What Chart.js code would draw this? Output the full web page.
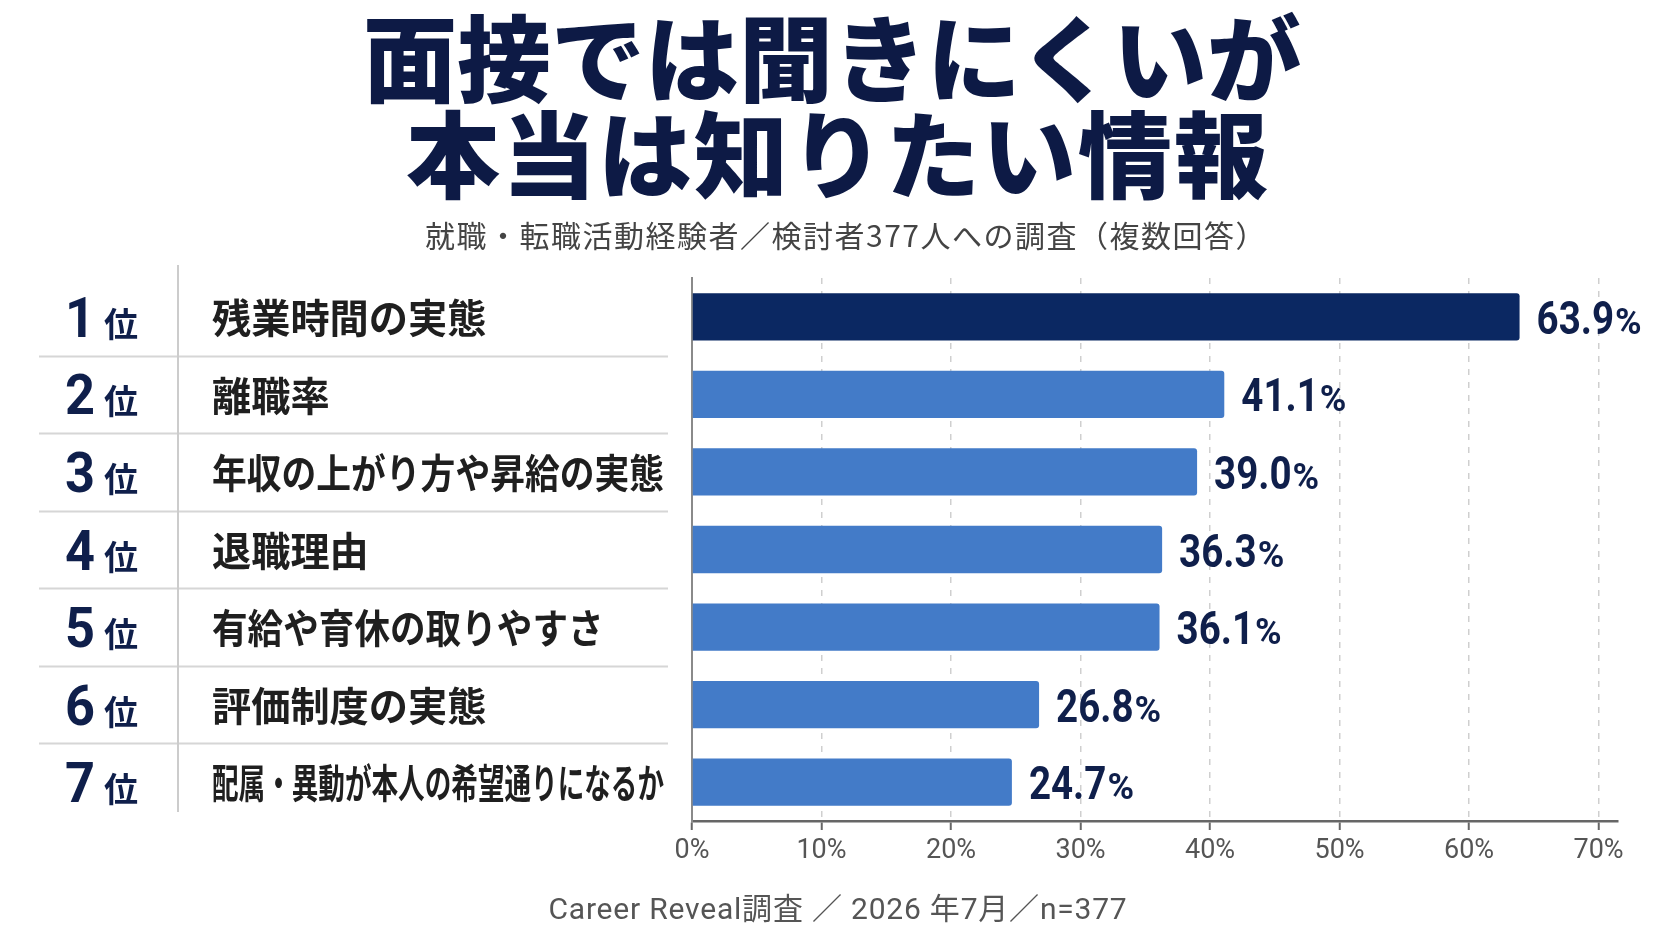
<!DOCTYPE html>
<html lang="ja">
<head>
<meta charset="utf-8">
<script src="https://cdn.jsdelivr.net/npm/chart.js@4.4.1/dist/chart.umd.min.js"></script>
<style>
  html, body { margin: 0; padding: 0; background: #ffffff; }
  body { width: 1672px; height: 941px; position: relative; overflow: hidden; }
  #wrap { position: absolute; left: 0; top: 0; width: 1672px; height: 941px; }
  .title { position: absolute; left: 0; width: 1672px; text-align: center;
           font-family: "Noto Sans CJK JP", sans-serif; font-weight: 900;
           color: #0d1a45; font-size: 94px; line-height: 100px; white-space: nowrap; }
  #t1 { top: 4px; letter-spacing: 0px; margin-left: -4px; }
  #t2 { top: 100px; letter-spacing: 2px; margin-left: 2px; }
  #sub { position: absolute; left: 0; width: 1672px; top: 214px; text-align: center;
         font-family: "Noto Sans CJK JP", sans-serif; font-weight: 400; font-size: 30px;
         line-height: 40px; color: #444; margin-left: 10px; letter-spacing: 1.5px; }
  #foot { position: absolute; left: 0; width: 1672px; top: 889px; text-align: center;
          font-family: Roboto, "Noto Sans CJK JP", sans-serif; font-size: 30px; line-height: 40px;
          color: #555; margin-left: 2px; letter-spacing: 0.8px; }
</style>
</head>
<body>
<div id="wrap"><canvas id="c"></canvas></div>
<div class="title" id="t1">面接では聞きにくいが</div>
<div class="title" id="t2">本当は知りたい情報</div>
<div id="sub">就職・転職活動経験者／検討者377人への調査（複数回答）</div>
<div id="foot">Career Reveal調査 ／ 2026 年7月／n=377</div>
<script>
const categories = ['残業時間の実態', '離職率', '年収の上がり方や昇給の実態', '退職理由', '有給や育休の取りやすさ', '評価制度の実態', '配属・異動が本人の希望通りになるか'];
const ranks = ['1', '2', '3', '4', '5', '6', '7'];
const values = [63.9, 41.1, 39.0, 36.3, 36.1, 26.8, 24.7];
const tickValues = [0, 10, 20, 30, 40, 50, 60, 70];
const axisMax = 71.5;

const NAVY = '#0f1f4b';
const barColors = values.map((v, i) => i === 0 ? '#0b2862' : '#437bc8');

const tablePlugin = {
  id: 'rankTable',
  afterDraw(chart) {
    const ctx = chart.ctx;
    const y = chart.scales.y;
    const half = Math.abs(y.getPixelForValue(1) - y.getPixelForValue(0)) / 2;
    ctx.save();
    ctx.strokeStyle = '#d6d6d6';
    ctx.lineWidth = 2;
    for (let i = 0; i < categories.length - 1; i++) {
      const yy = Math.round(y.getPixelForValue(i) + half) + 0.5;
      ctx.beginPath(); ctx.moveTo(39, yy); ctx.lineTo(668, yy); ctx.stroke();
    }
    ctx.strokeStyle = '#cccccc';
    ctx.beginPath();
    ctx.moveTo(178, y.getPixelForValue(0) - half - 13);
    ctx.lineTo(178, y.getPixelForValue(categories.length - 1) + half - 9);
    ctx.stroke();

    categories.forEach((label, i) => {
      const cy = y.getPixelForValue(i);
      ctx.fillStyle = NAVY;
      ctx.textBaseline = 'alphabetic';
      ctx.textAlign = 'center';
      ctx.font = 'bold 56px Roboto, "Noto Sans", sans-serif';
      ctx.fillText(ranks[i], 80, cy + 20, 30);
      ctx.textAlign = 'left';
      ctx.font = 'bold 34px "Noto Sans CJK JP", sans-serif';
      ctx.fillText('位', 104, cy + 20);
      ctx.fillStyle = '#1f1f1f';
      ctx.font = 'bold 40px "Noto Sans CJK JP", sans-serif';
      ctx.textBaseline = 'middle';
      const w = ctx.measureText(label).width;
      const squeeze = label.length <= 7 ? 0.98 : 0.89;
      const target = Math.min(w * squeeze, 452);
      ctx.fillText(label, 212, cy + 1, target);
    });
    ctx.restore();
  }
};

const valuePlugin = {
  id: 'valueLabels',
  afterDatasetsDraw(chart) {
    const ctx = chart.ctx;
    const meta = chart.getDatasetMeta(0);
    ctx.save();
    ctx.fillStyle = NAVY;
    ctx.textBaseline = 'alphabetic';
    ctx.textAlign = 'left';
    meta.data.forEach((bar, i) => {
      const num = values[i].toFixed(1);
      const x = bar.x + 17;
      const base = bar.y + 17;
      ctx.font = 'bold 47px Roboto, sans-serif';
      const nw = ctx.measureText(num).width * 0.82;
      ctx.fillText(num, x, base, nw);
      ctx.font = 'bold 36px Roboto, sans-serif';
      ctx.fillText('%', x + nw + 1, base);
    });
    ctx.restore();
  }
};

Chart.register(tablePlugin, valuePlugin);

function build() {
  new Chart(document.getElementById('c'), {
    type: 'bar',
    data: {
      labels: categories,
      datasets: [{
        data: values,
        backgroundColor: barColors,
        borderRadius: 3,
        borderSkipped: 'start',
        categoryPercentage: 1.0,
        barPercentage: 0.61
      }]
    },
    options: {
      indexAxis: 'y',
      responsive: true,
      maintainAspectRatio: false,
      animation: false,
      devicePixelRatio: 1,
      layout: { padding: { left: 692, right: 54, top: 278, bottom: 0 } },
      plugins: { legend: { display: false }, tooltip: { enabled: false } },
      scales: {
        x: {
          min: 0,
          max: axisMax,
          afterBuildTicks(scale) { scale.ticks = tickValues.map(v => ({ value: v })); },
          afterFit(scale) { scale.height = 120; },
          ticks: {
            callback: (v) => v + '%',
            color: '#555555',
            font: { family: 'Roboto', size: 27 },
            padding: 5,
            maxRotation: 0,
            autoSkip: false
          },
          grid: {
            color: (c) => (c.tick && c.tick.value === 0) ? 'rgba(0,0,0,0)' : '#cfcfcf',
            lineWidth: 1.5,
            tickColor: '#666666',
            tickLength: 9,
            tickWidth: 2
          },
          border: { display: true, color: '#666666', width: 2.5, dash: [6, 7] }
        },
        y: {
          afterFit(scale) { scale.width = 0; },
          ticks: { display: false },
          grid: { display: false, drawTicks: false },
          border: { display: true, color: '#8a8a8a', width: 2 }
        }
      }
    }
  });
}

const fontLoads = [
  'bold 40px "Noto Sans CJK JP"', '900 94px "Noto Sans CJK JP"', '27px Roboto', 'bold 46px Roboto'
].map(f => document.fonts.load(f, '位0%あ').catch(() => null));
Promise.all(fontLoads).then(build, build);
</script>
</body>
</html>
